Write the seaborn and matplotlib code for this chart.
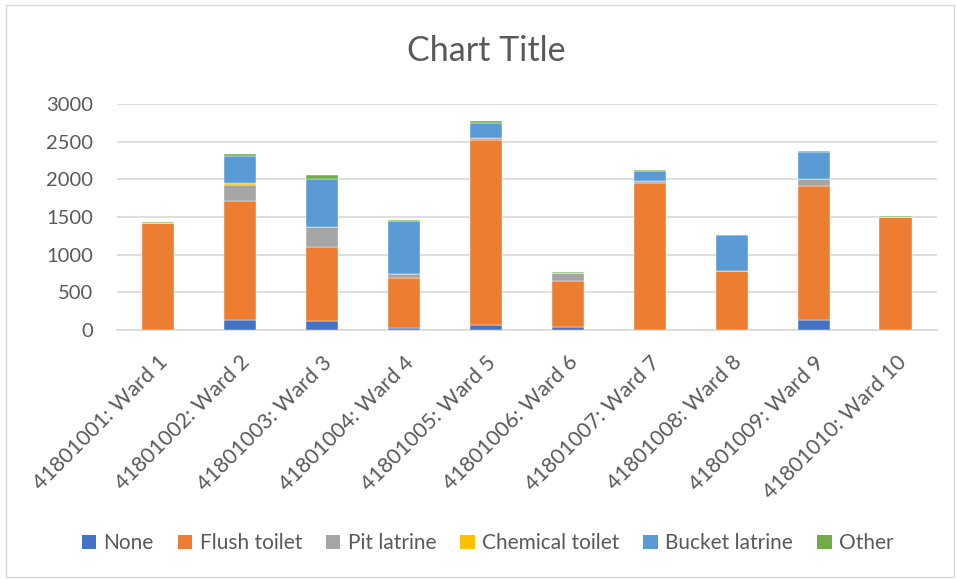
import matplotlib
matplotlib.use("Agg")
import matplotlib.pyplot as plt
from matplotlib.patches import Rectangle, Patch
import seaborn as sns

wards = [
    "41801001: Ward 1", "41801002: Ward 2", "41801003: Ward 3", "41801004: Ward 4",
    "41801005: Ward 5", "41801006: Ward 6", "41801007: Ward 7", "41801008: Ward 8",
    "41801009: Ward 9", "41801010: Ward 10",
]
none_vals = [5, 133, 124, 31, 71, 40, 5, 3, 133, 3]
flush_toilet = [1412, 1575, 982, 664, 2447, 615, 1950, 780, 1783, 1497]
pit_latrine = [3, 221, 261, 48, 31, 102, 22, 3, 84, 3]
chemical_toilet = [1, 18, 5, 2, 2, 1, 2, 1, 2, 1]
bucket_latrine = [2, 358, 633, 700, 203, 3, 137, 469, 367, 2]
other = [10, 31, 53, 17, 14, 13, 9, 5, 9, 10]

series_names = ["None", "Flush toilet", "Pit latrine", "Chemical toilet", "Bucket latrine", "Other"]
series_values = [none_vals, flush_toilet, pit_latrine, chemical_toilet, bucket_latrine, other]
series_colors = ["#4472C4", "#ED7D31", "#A5A5A5", "#FFC000", "#5B9BD5", "#70AD47"]

sns.set_theme(style="white")
plt.rcParams["font.family"] = ["Lato", "DejaVu Sans"]
text_color = "#595959"

fig = plt.figure(figsize=(9.56, 5.79), dpi=100)
ax = fig.add_axes([0.1224, 0.430, 0.8576, 0.3904])

bottoms = [0] * len(wards)
for name, vals, color in zip(series_names, series_values, series_colors):
    sns.barplot(x=wards, y=vals, bottom=bottoms, color=color, width=0.4,
                saturation=1, edgecolor="white", linewidth=0.3, ax=ax, zorder=3)
    bottoms = [b + v for b, v in zip(bottoms, vals)]

ax.set_ylim(0, 3000)
ax.set_xlim(-0.5, len(wards) - 0.5)
ax.set_yticks([0, 500, 1000, 1500, 2000, 2500, 3000])
ax.yaxis.grid(True, color="#D9D9D9", linewidth=1.2, zorder=0)
ax.set_axisbelow(True)
for s in ["top", "right", "left"]:
    ax.spines[s].set_visible(False)
ax.spines["bottom"].set_color("#D9D9D9")
ax.spines["bottom"].set_linewidth(1.2)
ax.tick_params(axis="both", length=0, colors=text_color)
ax.tick_params(axis="y", pad=17, labelsize=14.5)
ax.set_xticks(range(len(wards)))
ax.set_xticklabels(wards, rotation=45, ha="right", rotation_mode="anchor",
                   color=text_color, fontsize=15.5)
ax.tick_params(axis="x", pad=16)
for lbl in ax.get_yticklabels():
    lbl.set_color(text_color)
ax.set_xlabel("")
ax.set_ylabel("")

fig.text(0.5086, 0.912, "Chart Title", ha="center", va="center",
         fontsize=24.5, color=text_color)

handles = [Patch(facecolor=c, edgecolor="none") for c in series_colors]
fig.legend(handles, series_names, loc="center", bbox_to_anchor=(0.51, 0.062),
           ncol=6, frameon=False, fontsize=15, labelcolor=text_color,
           handlelength=0.7, handleheight=0.7, handletextpad=0.35,
           columnspacing=1.15)

fig.patches.append(Rectangle((6 / 956, 2 / 579), 948 / 956, 572 / 579,
                             transform=fig.transFigure, fill=False,
                             edgecolor="#D9D9D9", linewidth=1.0))

fig.savefig("out.png", dpi=100, facecolor="white")
